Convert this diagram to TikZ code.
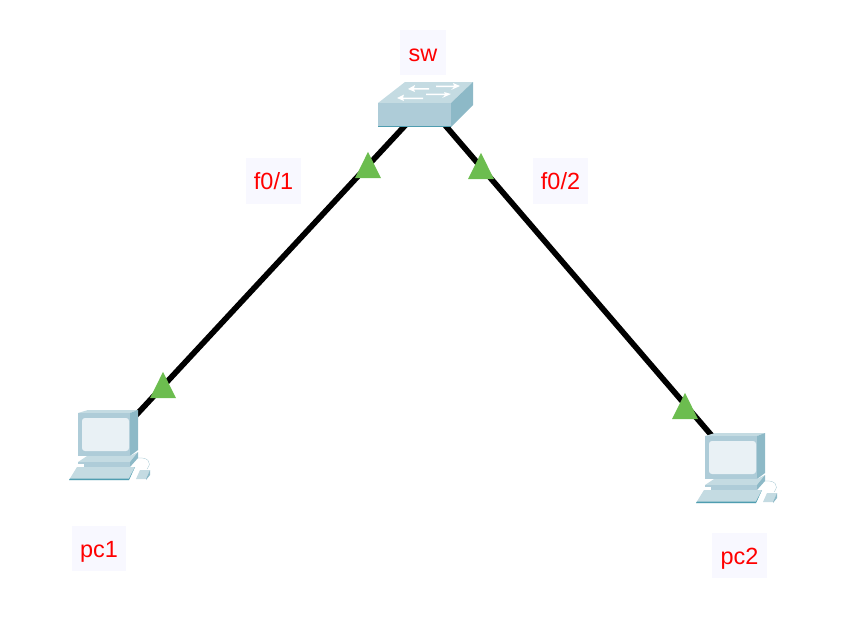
\documentclass[tikz,border=0pt]{standalone}
\usepackage{fontspec}
\setmainfont{Liberation Sans}
\usepackage{xcolor}
\usetikzlibrary{positioning,shapes.geometric}
\definecolor{devfront}{HTML}{AECCD8}
\definecolor{devtop}{HTML}{C4DBE2}
\definecolor{devside}{HTML}{8DB9C7}
\definecolor{devedge}{HTML}{4F9DB0}
\definecolor{devscreen}{HTML}{E9F1F5}
\definecolor{lblfill}{HTML}{F8F8FF}
\definecolor{portgreen}{HTML}{6CBD4F}
\tikzset{
  link/.style={line width=1.7mm, black},
  port/.style={isosceles triangle, isosceles triangle apex angle=53, shape border rotate=90,
    fill=portgreen, minimum height=7.8mm, minimum width=7.8mm, inner sep=0pt},
  lbl/.style={fill=lblfill, text=red, font=\fontsize{20}{24}\selectfont, minimum width=16.4mm,
    minimum height=13.6mm, inner sep=0pt, text height=18pt, text depth=3pt},
  hub/.style={inner sep=0pt, minimum size=0pt},
  pcbox/.pic={
    % monitor
    \fill[devtop] (23,43) -- (33,40) -- (83,40) -- (75,43) -- cycle;
    \fill[devside] (75,43) -- (83,40) -- (83,80) -- (75,86) -- cycle;
    \fill[devfront] (23,43) -- (75,43) -- (75,86) -- (23,86) -- cycle;
    \fill[devscreen, rounded corners=2.5pt] (27,48) rectangle (74,81);
    % stand
    \fill[devtop] (23,92) -- (32,86) -- (75,86) -- (83,82) -- (75,92) -- cycle;
    \fill[devfront] (23,92) -- (75,92) -- (75,94) -- (23,94) -- cycle;
    \fill[devfront] (29,94) rectangle (75,97);
    \fill[devside] (75,92) -- (83,82) -- (83,88) -- (75,97) -- cycle;
    % keyboard
    \fill[devtop] (14,110) -- (22,97) -- (80,97) -- (74,110) -- cycle;
    \fill[devedge] (14,110) -- (74,110) -- (80,97) -- (74,108.5) -- (15,108.5) -- cycle;
    % mouse and its cord
    \draw[devside, line width=0.2pt] (83,88) .. controls (92,87) and (98,92) .. (92,99);
    \fill[devtop] (81,109) -- (85,100) -- (95,100) -- (91,109) -- cycle;
    \fill[devside] (91,109) -- (95,100) -- (95,105) -- (91,110) -- cycle;
  },
  swbox/.pic={
    \fill[devtop] (378,103) -- (405,82) -- (473,82) -- (451,103) -- cycle;
    \fill[devside] (451,103) -- (473,82) -- (473,105) -- (451,127) -- cycle;
    \fill[devfront] (378,103) rectangle (451,126);
    \draw[devedge, line width=0.3pt] (378,126.5) -- (451,126.5);
    % arrows on top
    \fill[white] (408,89) -- (415,85) -- (414,88) -- (429,88) -- (429,89.5) -- (414,89.5) -- (415,92) -- cycle;
    \fill[white] (460,86) -- (453,83) -- (454,85.5) -- (436,85.5) -- (436,87) -- (454,87) -- (451,90) -- cycle;
    \fill[white] (397,98) -- (404,94.5) -- (403,97.5) -- (423,97.5) -- (423,99) -- (403,99) -- (404,101) -- cycle;
    \fill[white] (451,94) -- (444,92) -- (445,93.5) -- (426,93.5) -- (426,95) -- (445,95) -- (442,98) -- cycle;
  },
}
\begin{document}
\begin{tikzpicture}[x=0.3mm, y=-0.3mm]
\useasboundingbox (0,0) rectangle (849,617);
% attachment points of the links
\node[hub] (sw) at (426,103) {};
\node[hub] (pc1) at (113,440) {};
\node[hub] (pc2) at (737,465) {};
% links
\draw[link] (sw) -- (pc1);
\draw[link] (sw) -- (pc2);
% devices
\pic at (0,0) {swbox};
\pic at (55,370) {pcbox};
\pic at (682,393) {pcbox};
% link state markers
\node[port] (p1) at (368,170) {};
\node[port] (p2) at (481,171) {};
\node[port] (p3) at (163,390) {};
\node[port] (p4) at (685,411) {};
% labels
\node[lbl, minimum width=13.8mm] (lsw) at (423,52.5) {sw};
\node[lbl] (lf1) at (273.5,181) {f0/1};
\node[lbl] (lf2) at (560.5,181) {f0/2};
\node[lbl] (lpc1) at (99,548.5) {pc1};
\node[lbl] (lpc2) at (739.5,555.5) {pc2};
\end{tikzpicture}
\end{document}
